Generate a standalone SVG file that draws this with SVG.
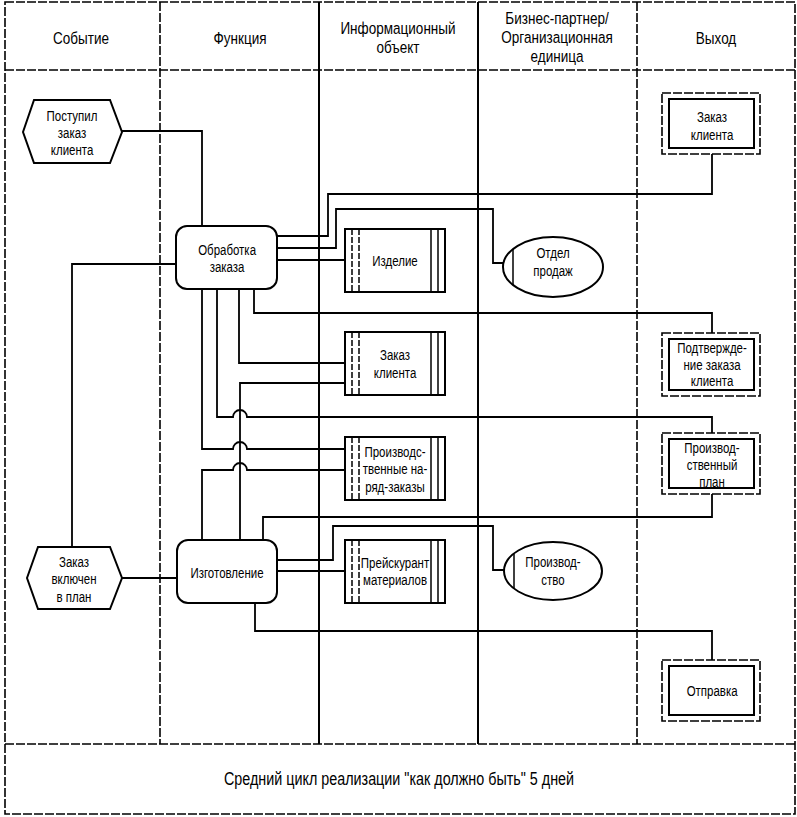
<svg xmlns="http://www.w3.org/2000/svg" width="797" height="817" viewBox="0 0 797 817">
<style>
text{font-family:"Liberation Sans",Arial,sans-serif;fill:#000;text-anchor:middle;dominant-baseline:central;transform-box:fill-box;transform-origin:center;transform:scaleX(0.82)}
.h{font-size:16.5px}
.t{font-size:14px}
.f{font-size:17.5px}
.frame{fill:none;stroke:#000;stroke-width:1.6}
.dash{fill:none;stroke:#000;stroke-width:1.6;stroke-dasharray:9 2}
.col{fill:none;stroke:#000;stroke-width:2}
.ln{fill:none;stroke:#000;stroke-width:1.8}
.box{fill:#fff;stroke:#000;stroke-width:2}
.thin{fill:none;stroke:#000;stroke-width:1.5}
.dthin{fill:none;stroke:#000;stroke-width:1.5;stroke-dasharray:6 2}
</style>
<rect width="797" height="817" fill="#fff"/>
<g id="grid">
<rect class="dash" x="5" y="2" width="790" height="812"/>
<line class="dash" x1="5" y1="70" x2="795" y2="70"/>
<line class="dash" x1="5" y1="744" x2="795" y2="744"/>
<line class="dash" x1="160" y1="2" x2="160" y2="744"/>
<line class="col" x1="319" y1="2" x2="319" y2="744"/>
<line class="col" x1="478" y1="2" x2="478" y2="744"/>
<line class="dash" x1="637" y1="2" x2="637" y2="744"/>
</g>
<g id="headers">
<text class="h" x="81" y="38">Событие</text>
<text class="h" x="240" y="38">Функция</text>
<text class="h" x="398" y="28">Информационный</text>
<text class="h" x="398" y="47">объект</text>
<text class="h" x="557" y="18">Бизнес-партнер/</text>
<text class="h" x="557" y="37">Организационная</text>
<text class="h" x="557" y="56">единица</text>
<text class="h" x="716" y="38">Выход</text>
</g>
<g id="connectors">
<polyline class="ln" points="122,131 202,131 202,226"/>
<polyline class="ln" points="176,264 72,264 72,547"/>
<polyline class="ln" points="122,578 177,578"/>
<polyline class="ln" points="277,236 328,236 328,194 712,194 712,154"/>
<polyline class="ln" points="277,248 336,248 336,209 493,209 493,263 504,263"/>
<polyline class="ln" points="277,260 345,260"/>
<polyline class="ln" points="254,289 254,313 712,313 712,333"/>
<polyline class="ln" points="239,289 239,363 345,363"/>
<path class="ln" d="M217,289 V417 H233 A7,7 0 0 1 247,417 H712 V433"/>
<path class="ln" d="M202,289 V449 H233 A7,7 0 0 1 247,449 H345"/>
<path class="ln" d="M202,540 V470 H233 A7,7 0 0 1 247,470 H345"/>
<polyline class="ln" points="240,540 240,383 345,383"/>
<polyline class="ln" points="263,540 263,517 712,517 712,494"/>
<polyline class="ln" points="277,560 333,560 333,526 493,526 493,570 504,570"/>
<polyline class="ln" points="277,571 345,571"/>
<polyline class="ln" points="255,603 255,631 712,631 712,660"/>
</g>
<g id="ev1">
<polygon class="box" points="23,132 34,100 110,100 122,132 110,163 34,163"/>
<text class="t" x="72" y="116">Поступил</text>
<text class="t" x="72" y="133">заказ</text>
<text class="t" x="72" y="150">клиента</text>
</g>
<g id="ev2">
<polygon class="box" points="27,578 38,547 110,547 122,578 110,609 38,609"/>
<text class="t" x="74" y="562">Заказ</text>
<text class="t" x="74" y="579">включен</text>
<text class="t" x="74" y="597">в план</text>
</g>
<g id="fn1">
<rect class="box" x="176" y="226" width="101" height="63" rx="11"/>
<text class="t" x="227" y="250">Обработка</text>
<text class="t" x="227" y="267">заказа</text>
</g>
<g id="fn2">
<rect class="box" x="177" y="540" width="100" height="63" rx="11"/>
<text class="t" x="227" y="573">Изготовление</text>
</g>
<g id="io1">
<rect class="box" x="345" y="229" width="100" height="63"/>
<line class="dthin" x1="352" y1="229" x2="352" y2="292"/><line class="dthin" x1="359" y1="229" x2="359" y2="292"/>
<line class="thin" x1="431" y1="229" x2="431" y2="292"/><line class="thin" x1="438" y1="229" x2="438" y2="292"/>
<text class="t" x="395" y="261">Изделие</text>
</g>
<g id="io2">
<rect class="box" x="345" y="332" width="100" height="63"/>
<line class="dthin" x1="352" y1="332" x2="352" y2="395"/><line class="dthin" x1="359" y1="332" x2="359" y2="395"/>
<line class="thin" x1="431" y1="332" x2="431" y2="395"/><line class="thin" x1="438" y1="332" x2="438" y2="395"/>
<text class="t" x="395" y="355">Заказ</text>
<text class="t" x="395" y="373">клиента</text>
</g>
<g id="io3">
<rect class="box" x="345" y="437" width="100" height="63"/>
<line class="dthin" x1="352" y1="437" x2="352" y2="500"/><line class="dthin" x1="359" y1="437" x2="359" y2="500"/>
<line class="thin" x1="431" y1="437" x2="431" y2="500"/><line class="thin" x1="438" y1="437" x2="438" y2="500"/>
<text class="t" x="395" y="452">Производс-</text>
<text class="t" x="395" y="469">твенные на-</text>
<text class="t" x="395" y="487">ряд-заказы</text>
</g>
<g id="io4">
<rect class="box" x="345" y="540" width="100" height="63"/>
<line class="dthin" x1="352" y1="540" x2="352" y2="603"/><line class="dthin" x1="359" y1="540" x2="359" y2="603"/>
<line class="thin" x1="431" y1="540" x2="431" y2="603"/><line class="thin" x1="438" y1="540" x2="438" y2="603"/>
<text class="t" x="395" y="563">Прейскурант</text>
<text class="t" x="395" y="580">материалов</text>
</g>
<g id="org1">
<ellipse class="box" cx="553" cy="267" rx="50" ry="30"/>
<line class="thin" x1="513" y1="249" x2="513" y2="285"/>
<text class="t" x="553" y="253">Отдел</text>
<text class="t" x="553" y="271">продаж</text>
</g>
<g id="org2">
<ellipse class="box" cx="553" cy="571" rx="49" ry="29"/>
<line class="thin" x1="514" y1="554" x2="514" y2="588"/>
<text class="t" x="553" y="562">Производ-</text>
<text class="t" x="553" y="580">ство</text>
</g>
<g id="out1">
<rect class="dash" x="662" y="93" width="98" height="61"/>
<rect class="box" x="669" y="99" width="85" height="49"/>
<text class="t" x="712" y="117">Заказ</text>
<text class="t" x="712" y="135">клиента</text>
</g>
<g id="out2">
<rect class="dash" x="662" y="333" width="98" height="63"/>
<rect class="box" x="669" y="339" width="85" height="51"/>
<text class="t" x="712" y="348">Подтвержде-</text>
<text class="t" x="712" y="365">ние заказа</text>
<text class="t" x="712" y="381">клиента</text>
</g>
<g id="out3">
<rect class="dash" x="662" y="433" width="98" height="61"/>
<rect class="box" x="669" y="439" width="85" height="49"/>
<text class="t" x="712" y="448">Производ-</text>
<text class="t" x="712" y="465">ственный</text>
<text class="t" x="712" y="482">план</text>
</g>
<g id="out4">
<rect class="dash" x="662" y="660" width="98" height="61"/>
<rect class="box" x="669" y="666" width="85" height="49"/>
<text class="t" x="712" y="691">Отправка</text>
</g>
<g id="footer">
<text class="f" x="399" y="779">Средний цикл реализации "как должно быть" 5 дней</text>
</g>
</svg>
